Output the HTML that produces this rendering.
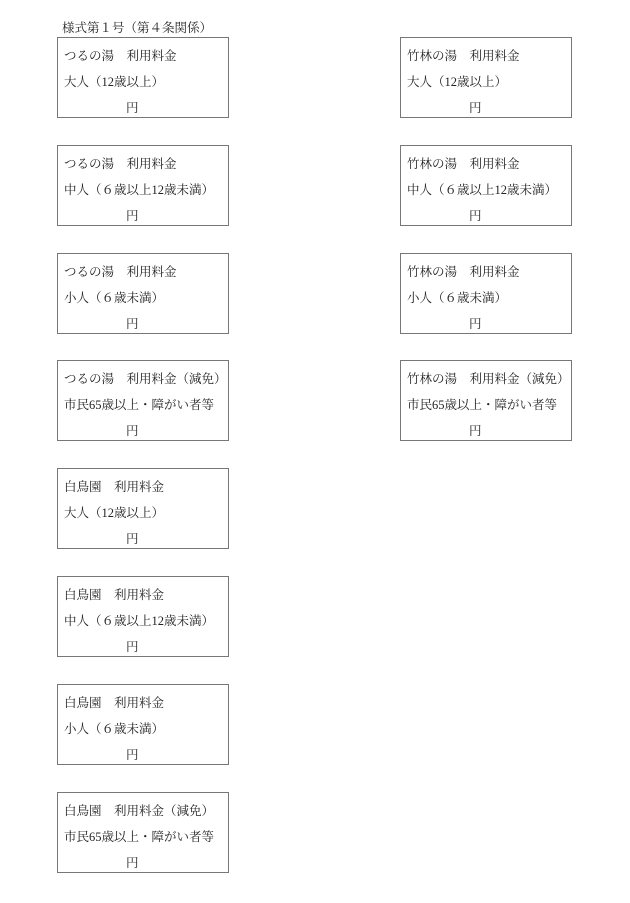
<!DOCTYPE html>
<html><head><meta charset="utf-8"><style>
body{margin:0;width:630px;height:903px;background:#fff;position:relative;font-family:"Liberation Serif","Noto Serif CJK JP","Noto Serif CJK SC",serif;font-size:12.5px;color:#222;}
.t{position:absolute;left:62px;top:18px;white-space:nowrap}
.b{position:absolute;width:170px;height:79px;border:1px solid #777;}
.b div{position:absolute;left:6px;white-space:nowrap;line-height:14px}
.l1{top:11px}.l2{top:37px}.l3{top:63px;left:68px!important}
</style></head><body>
<div class="t">様式第１号（第４条関係）</div>
<div class="b" style="left:57px;top:37px"><div class="l1">つるの湯　利用料金</div><div class="l2">大人（12歳以上）</div><div class="l3">円</div></div>
<div class="b" style="left:57px;top:145px"><div class="l1">つるの湯　利用料金</div><div class="l2">中人（６歳以上12歳未満）</div><div class="l3">円</div></div>
<div class="b" style="left:57px;top:253px"><div class="l1">つるの湯　利用料金</div><div class="l2">小人（６歳未満）</div><div class="l3">円</div></div>
<div class="b" style="left:57px;top:360px"><div class="l1">つるの湯　利用料金（減免）</div><div class="l2">市民65歳以上・障がい者等</div><div class="l3">円</div></div>
<div class="b" style="left:57px;top:468px"><div class="l1">白鳥園　利用料金</div><div class="l2">大人（12歳以上）</div><div class="l3">円</div></div>
<div class="b" style="left:57px;top:576px"><div class="l1">白鳥園　利用料金</div><div class="l2">中人（６歳以上12歳未満）</div><div class="l3">円</div></div>
<div class="b" style="left:57px;top:684px"><div class="l1">白鳥園　利用料金</div><div class="l2">小人（６歳未満）</div><div class="l3">円</div></div>
<div class="b" style="left:57px;top:792px"><div class="l1">白鳥園　利用料金（減免）</div><div class="l2">市民65歳以上・障がい者等</div><div class="l3">円</div></div>
<div class="b" style="left:400px;top:37px"><div class="l1">竹林の湯　利用料金</div><div class="l2">大人（12歳以上）</div><div class="l3">円</div></div>
<div class="b" style="left:400px;top:145px"><div class="l1">竹林の湯　利用料金</div><div class="l2">中人（６歳以上12歳未満）</div><div class="l3">円</div></div>
<div class="b" style="left:400px;top:253px"><div class="l1">竹林の湯　利用料金</div><div class="l2">小人（６歳未満）</div><div class="l3">円</div></div>
<div class="b" style="left:400px;top:360px"><div class="l1">竹林の湯　利用料金（減免）</div><div class="l2">市民65歳以上・障がい者等</div><div class="l3">円</div></div>
</body></html>
